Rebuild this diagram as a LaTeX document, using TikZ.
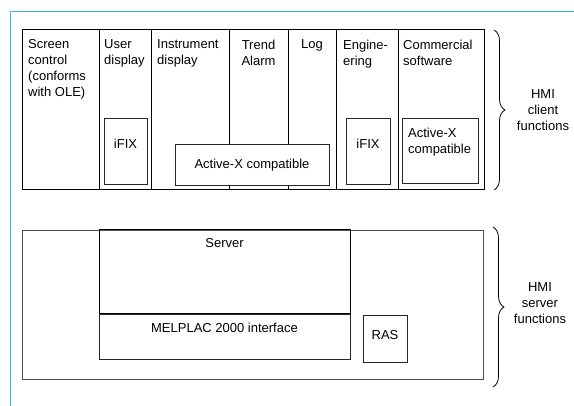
\documentclass[tikz,border=0pt]{standalone}
\usepackage{fontspec}
\setmainfont{Liberation Sans}
\usetikzlibrary{positioning,decorations.pathreplacing}
\definecolor{frameblue}{HTML}{3CB4E6}
\tikzset{
    col/.style={rectangle,draw=black,line width=1pt,minimum height=160pt,inner sep=0pt,outer sep=0pt},
    subbox/.style={rectangle,draw=black!85,line width=0.8pt,inner sep=0pt,outer sep=0pt},
    lbl/.style={inner sep=0pt,align=left,anchor=north west},
    clbl/.style={inner sep=0pt,align=center,anchor=base},
    mybrace/.style={decorate,decoration={brace,amplitude=11pt},line width=0.8pt}
}
\begin{document}
\begin{tikzpicture}[x=1pt,y=-1pt,font=\fontsize{13}{16}\selectfont]
    \useasboundingbox (0,0) rectangle (574,406);
    % blue frame
    \draw[frameblue,line width=1pt] (10,406) -- (10,12) -- (574,12);

    % client functions
    \node[col,minimum width=77pt,anchor=north west] (screen) at (22,30) {};
    \node[col,minimum width=52pt,right=0pt of screen] (user) {};
    \node[col,minimum width=78pt,right=0pt of user] (instr) {};
    \node[col,minimum width=59pt,right=0pt of instr] (trend) {};
    \node[col,minimum width=48pt,right=0pt of trend] (log) {};
    \node[col,minimum width=62pt,right=0pt of log] (eng) {};
    \node[col,minimum width=86pt,right=0pt of eng] (comm) {};

    \node[lbl] at ([shift={(6,9.5)}]screen.north west) {Screen\\control\\(conforms\\with OLE)};
    \node[lbl] at ([shift={(5,9.5)}]user.north west) {User\\display};
    \node[lbl] at ([shift={(6,9.5)}]instr.north west) {Instrument\\display};
    \node[clbl,anchor=north] at ([shift={(0,9.5)}]trend.north) {Trend\\Alarm};
    \node[clbl] at ([shift={(0,19)}]log.north) {Log};
    \node[lbl] at ([shift={(7,9.5)}]eng.north west) {Engine-\\ering};
    \node[lbl] at ([shift={(5,9.5)}]comm.north west) {Commercial\\software};

    \node[subbox,minimum width=43pt,minimum height=66pt,anchor=north west] (ifixa) at (104,118) {};
    \node[subbox,minimum width=44pt,minimum height=66pt,anchor=north west] (ifixb) at (346,118) {};
    \node[subbox,fill=white,minimum width=154pt,minimum height=41pt,anchor=north west] (actx) at (175,144) {};
    \node[subbox,minimum width=76pt,minimum height=65pt,anchor=north west] (actxb) at (402,118) {};
    \node[clbl] at ([shift={(0,31)}]ifixa.north) {iFIX};
    \node[clbl] at ([shift={(0,31)}]ifixb.north) {iFIX};
    \node[clbl] at ([shift={(0,25)}]actx.north) {Active-X compatible};
    \node[lbl] at ([shift={(6,9.5)}]actxb.north west) {Active-X\\compatible};

    % server functions
    \node[subbox,draw=black!70,minimum width=461pt,minimum height=149pt,anchor=north west] (srvall) at (22,230) {};
    \node[subbox,draw=black,line width=1pt,minimum width=251pt,minimum height=84pt,anchor=north west] (server) at (99,230) {};
    \node[subbox,minimum width=251pt,minimum height=45pt,below=0pt of server] (melplac) {};
    \node[subbox,minimum width=44pt,minimum height=47pt,anchor=north west] (ras) at (363,315) {};
    \node[clbl] at ([shift={(0,18)}]server.north) {Server};
    \node[clbl] at ([shift={(0,19)}]melplac.north) {MELPLAC 2000 interface};
    \node[clbl] at ([shift={(0,1.5)}]ras.center) {RAS};

    % braces
    \coordinate (cbtop) at ([xshift=10]comm.north east);
    \coordinate (cbbot) at ([xshift=10]comm.south east);
    \coordinate (sbtop) at ([shift={(10,-3)}]srvall.north east);
    \coordinate (sbbot) at ([shift={(10,8)}]srvall.south east);
    \draw[mybrace] (cbtop) -- (cbbot);
    \draw[mybrace] (sbtop) -- (sbbot);
    \node[clbl,anchor=north] (client) at (543,89.5) {HMI\\client\\functions};
    \node[clbl,anchor=north] (srvlbl) at (540,282.5) {HMI\\server\\functions};
\end{tikzpicture}
\end{document}
